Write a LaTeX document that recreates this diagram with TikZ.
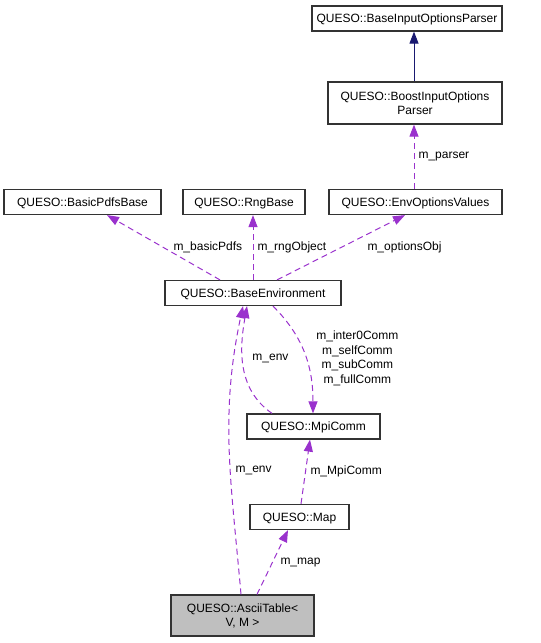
\documentclass[tikz,border=0pt]{standalone}
\usepackage{fontspec}
\setmainfont{Liberation Sans}
\usetikzlibrary{arrows.meta}
\definecolor{membercol}{RGB}{154,50,205}
\definecolor{basecol}{RGB}{25,25,112}
\definecolor{focusgray}{RGB}{191,191,191}

\begin{document}
\begin{tikzpicture}[->,>={Triangle[length=12pt,width=9pt]}
  ,x=1pt,y=-1pt
  ,line width=1pt]
  \tikzstyle{class}=[draw=black!80,line width=1.2pt,rectangle,minimum height=25pt,inner sep=2pt
  ,align=center,text depth=0pt,font=\fontsize{12}{14}\selectfont]
  \tikzstyle{member}=[color=membercol,dash pattern=on 6pt off 4pt]
  \tikzstyle{lbl}=[font=\fontsize{12}{14.5}\selectfont,inner sep=1pt
  ,anchor=west,align=center,text=black]

  \useasboundingbox (0,0) rectangle (541,643);

  \node[class,minimum width=190pt] (parser) at (407,18.5) {QUESO::BaseInputOptionsParser};
  \node[class,minimum width=174pt,minimum height=42pt] (boost) at (415,103) {QUESO::BoostInputOptions\\Parser};
  \node[class,minimum width=157pt] (pdfs) at (82.5,202) {QUESO::BasicPdfsBase};
  \node[class,minimum width=122pt] (rng) at (244,202) {QUESO::RngBase};
  \node[class,minimum width=173pt] (opts) at (415.5,202) {QUESO::EnvOptionsValues};
  \node[class,minimum width=176pt] (env) at (253,293) {QUESO::BaseEnvironment};
  \node[class,minimum width=133pt] (comm) at (313.5,426.5) {QUESO::MpiComm};
  \node[class,minimum width=99pt] (map) at (299.5,517) {QUESO::Map};
  \node[class,fill=focusgray,minimum width=143pt,minimum height=41pt] (table) at (242.5,615.5) {QUESO::AsciiTable<\\V, M >};

  \path[color=basecol]
  ([xshift=-1pt]boost.north) edge ([xshift=7pt]parser.south)
  ;
  \path[member]
  ([xshift=-1.5pt]opts.north) edge node[lbl,xshift=3pt] {m\_parser} ([xshift=-1pt]boost.south)
  ([xshift=-33pt]env.north) edge node[lbl,xshift=8.5pt] {m\_basicPdfs} ([xshift=24.5pt]pdfs.south)
  (env.north) edge node[lbl,xshift=3pt] {m\_rngObject} ([xshift=9pt]rng.south)
  ([xshift=24pt]env.north) edge node[lbl,xshift=25pt] {m\_optionsObj} ([xshift=-10.5pt]opts.south)
  ([xshift=20pt]env.south) edge [out=-45,in=90] node[lbl,xshift=10pt,yshift=-3.5pt]
    {m\_inter0Comm\\m\_selfComm\\m\_subComm\\m\_fullComm} ([xshift=-0.5pt]comm.north)
  ([xshift=-41.5pt]comm.north) edge [out=145,in=-100] node[lbl,xshift=7.5pt,yshift=8pt] {m\_env} ([xshift=-6pt]env.south)
  ([xshift=-1.5pt]table.north) edge [out=95,in=-102] node[lbl,pos=.42,xshift=3.7pt] {m\_env} ([xshift=-10pt]env.south)
  ([xshift=1.5pt]map.north) edge node[lbl,xshift=3.5pt] {m\_MpiComm} ([xshift=-3.5pt]comm.south)
  ([xshift=14.5pt]table.north) edge node[lbl,xshift=6.5pt] {m\_map} ([xshift=-11.5pt]map.south)
  ;

\end{tikzpicture}
\end{document}
